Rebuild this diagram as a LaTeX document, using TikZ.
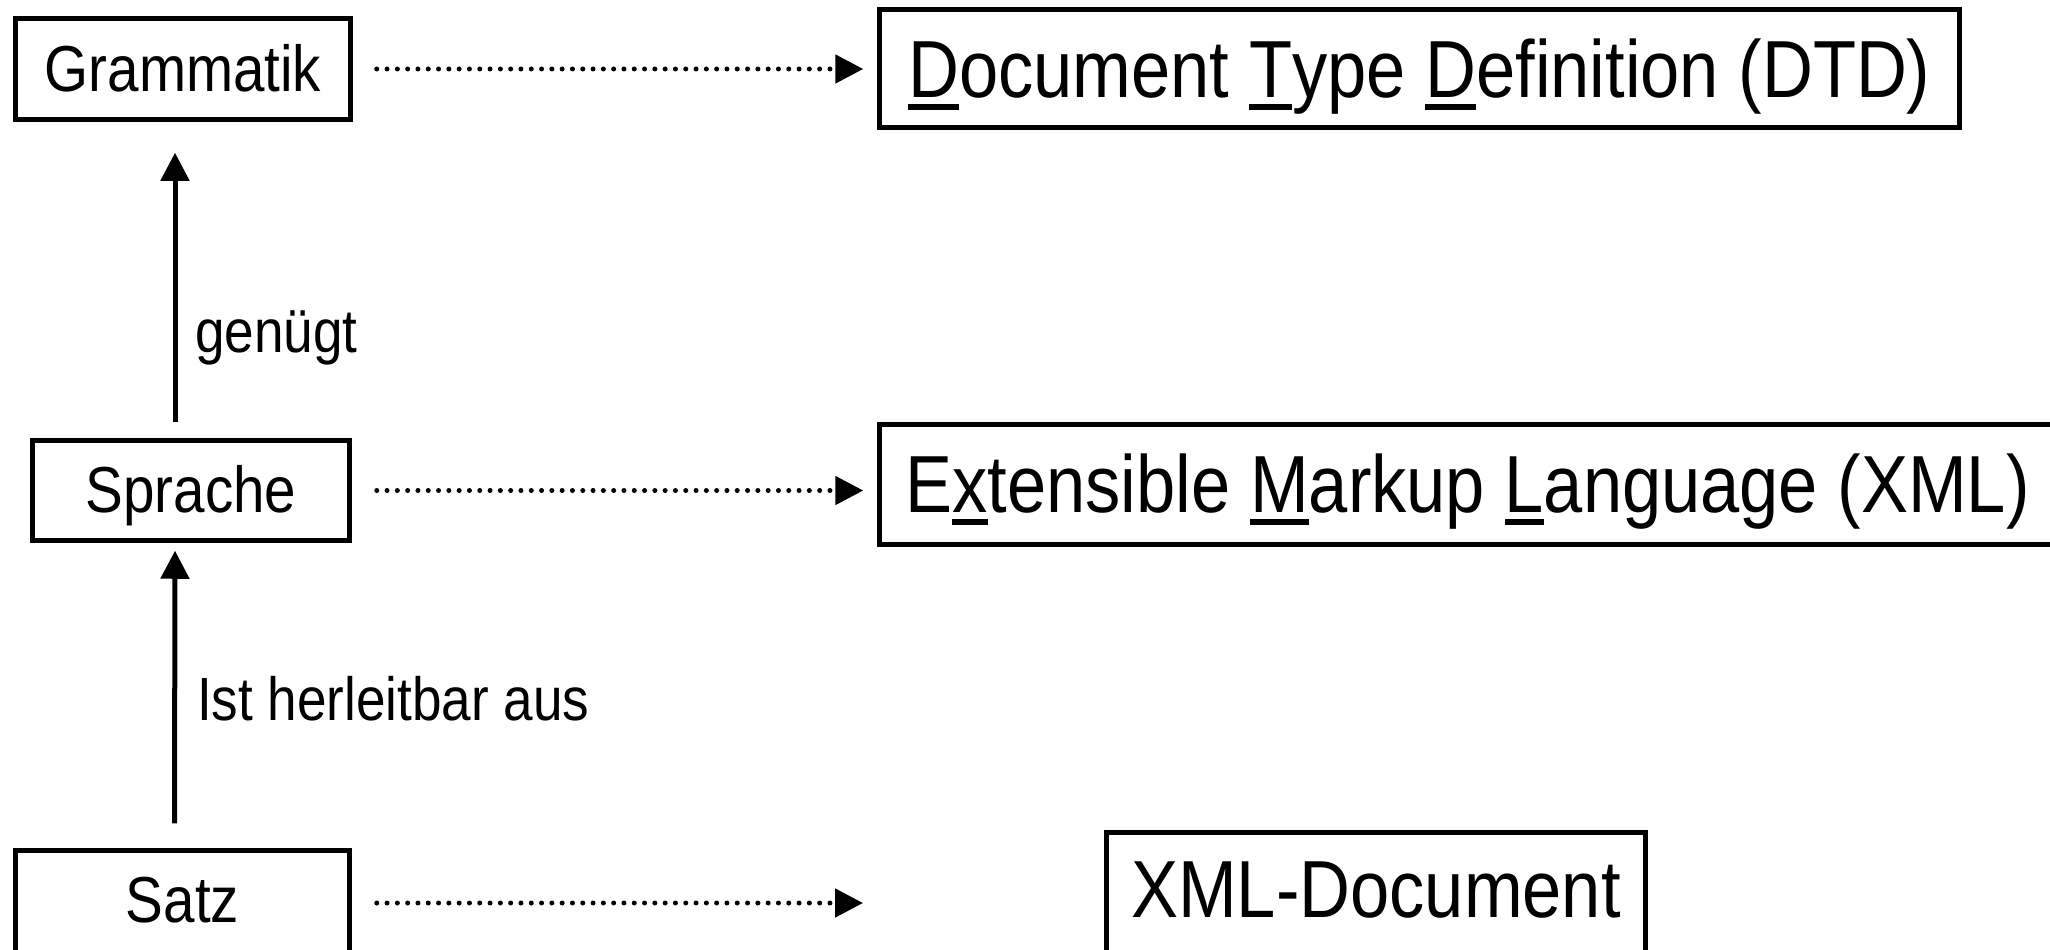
\documentclass[tikz,border=0pt]{standalone}
\usepackage{fontspec}
\setmainfont{Liberation Sans}[FakeStretch=0.87]
\usetikzlibrary{arrows.meta}
\newcommand\fsmallbox{\fontsize{65pt}{70pt}\selectfont}
\newcommand\flargebox{\fontsize{81pt}{88pt}\selectfont}
\newcommand\flabeltxt{\fontsize{61pt}{66pt}\selectfont}
\newcommand\myul[1]{\setbox0\hbox{#1}\rlap{\rule[-13pt]{\wd0}{6pt}}\box0}
\tikzset{
  bx/.style={draw, line width=5pt, inner sep=0pt, outer sep=0pt, anchor=north west},
  lbl/.style={inner sep=0pt, outer sep=0pt, anchor=base west, font=\flabeltxt},
  solidarrow/.style={line width=5pt, -{Triangle[length=28pt,width=28pt]}},
  dotarrow/.style={line width=5pt, line cap=round, dash pattern=on 0pt off 10.3pt,
                   -{Triangle[length=28pt,width=28pt,line cap=butt]}},
}
\begin{document}
\begin{tikzpicture}[x=1pt,y=-1pt]
\useasboundingbox (0,0) rectangle (2050,950);
\fill[white] (0,0) rectangle (2050,950);
\clip (0,0) rectangle (2050,950);
% boxes
\node[bx, minimum width=335.5pt, text height=73.75pt, text depth=27.75pt, font=\fsmallbox]
  (gram) at (15.25,18.25) {Grammatik};
\node[bx, minimum width=1080.5pt, text height=87.75pt, text depth=30.75pt, font=\flargebox]
  (dtd) at (879.25,9.25) {\myul{D}ocument \myul{T}ype \myul{D}efinition (DTD)};
\node[bx, minimum width=317.5pt, text height=71.75pt, text depth=28.75pt, font=\fsmallbox]
  (sprache) at (32.25,440.25) {Sprache};
\node[bx, minimum width=1176.5pt, text height=87.75pt, text depth=32.75pt, font=\flargebox]
  (xml) at (879.25,424.25) {E\myul{x}tensible \myul{M}arkup \myul{L}anguage (XML)};
\node[bx, minimum width=334.5pt, text height=71.75pt, text depth=33.75pt, font=\fsmallbox]
  (satz) at (15.25,850.25) {Satz};
\node[bx, minimum width=539.5pt, text height=84.75pt, text depth=38.75pt, font=\flargebox]
  (xmldoc) at (1106.25,832.25) {XML-Document};
% labels
\node[lbl] (genuegt) at (195,352) {genügt};
\node[lbl] (herl) at (197,720) {Ist herleitbar aus};
% solid arrows
\draw[solidarrow] ([xshift=-16pt,yshift=18pt]sprache.north) -- ([xshift=-8pt,yshift=-33pt]gram.south);
\draw[solidarrow] ([xshift=-8pt,yshift=27pt]satz.north) -- ([xshift=-16pt,yshift=-10pt]sprache.south);
% dotted arrows
\coordinate (satzend) at (863,903);
\draw[dotarrow, shorten <=26pt, shorten >=16pt] (gram.east) -- (gram.east -| dtd.west);
\draw[dotarrow, shorten <=27pt, shorten >=16pt] (sprache.east) -- (sprache.east -| xml.west);
\draw[dotarrow, shorten <=27pt] (satz.east) -- (satzend);
\end{tikzpicture}
\end{document}
